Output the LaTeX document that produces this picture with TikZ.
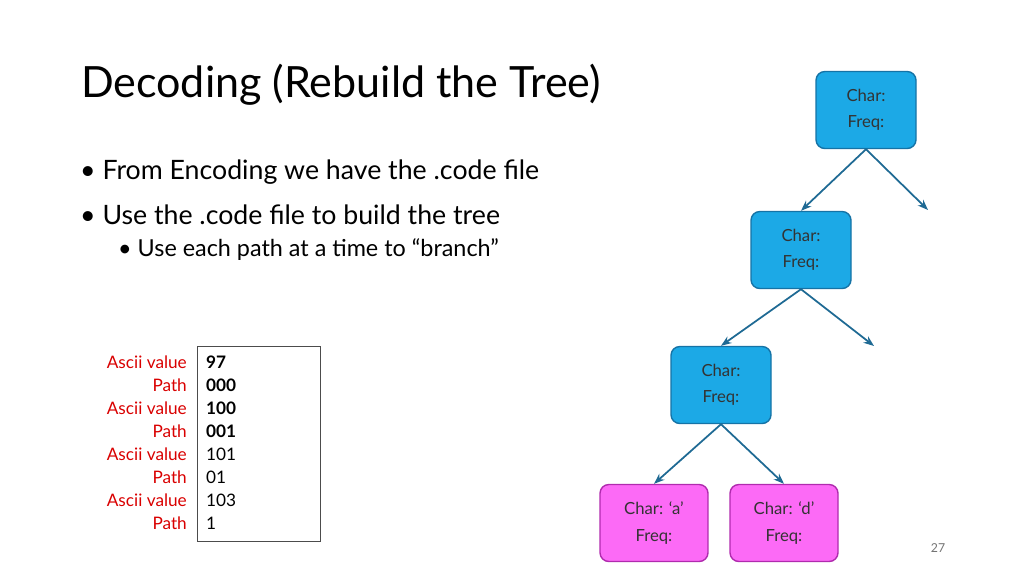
\documentclass[tikz,border=0pt]{standalone}
\usepackage{fontspec}
\setmainfont{Lato}
\usetikzlibrary{arrows.meta}
\definecolor{nb}{HTML}{1CA9E6}
\definecolor{nbd}{HTML}{1573A6}
\definecolor{np}{HTML}{FC6AF6}
\definecolor{npd}{HTML}{B02BAE}
\definecolor{ac}{HTML}{1F6A94}
\begin{document}
\begin{tikzpicture}[x=0.02cm,y=-0.02cm,
  bn/.style={line width=0.8pt,rounded corners=5pt,minimum width=2cm,minimum height=1.54cm,align=center,font=\fontsize{9.5}{15}\selectfont,text=black!80},
  blue/.style={bn,draw=nbd,fill=nb},
  pink/.style={bn,draw=npd,fill=np,minimum width=2.16cm},
  arr/.style={-{Stealth[length=6pt]},draw=ac,line width=1pt},
  lab/.style={anchor=east,text=red!85!black,font=\fontsize{9.8}{10}\selectfont},
  val/.style={anchor=west,font=\fontsize{9.8}{10}\selectfont}]
\useasboundingbox (0,0) rectangle (1024,576);
\node[anchor=west,font=\fontsize{24.5}{28}\selectfont] (t) at (75,85) {Decoding (Rebuild the Tree)};
\node[anchor=west,font=\fontsize{15.2}{18}\selectfont] (b1) at (74,172) {\textbullet\ From Encoding we have the .code file};
\node[anchor=west,font=\fontsize{15.2}{18}\selectfont] (b2) at (74,215) {\textbullet\ Use the .code file to build the tree};
\node[anchor=west,font=\fontsize{13.3}{16}\selectfont] (b3) at (112,250) {\textbullet\ Use each path at a time to “branch”};
\node[blue] (n1) at (866,110) {Char:\\Freq:};
\node[blue] (n2) at (801,250) {Char:\\Freq:};
\node[blue] (n3) at (721,385) {Char:\\Freq:};
\node[pink] (a) at (654,523) {Char: ‘a’\\Freq:};
\node[pink] (d) at (784,523) {Char: ‘d’\\Freq:};
\coordinate (r1) at (928,210);
\coordinate (r2) at (874,346);
\draw[arr] (n1.south) -- (n2.north);
\draw[arr] (n1.south) -- (r1);
\draw[arr] (n2.south) -- (n3.north);
\draw[arr] (n2.south) -- (r2);
\draw[arr] (n3.south) -- (a.north);
\draw[arr] (n3.south) -- (d.north);
\node[draw=black!70,line width=0.5pt,minimum width=2.46cm,minimum height=3.9cm,anchor=north west] (box) at (197,346) {};
\foreach \l/\v/\y in {Ascii value/\textbf{97}/362,Path/\textbf{000}/385,Ascii value/\textbf{100}/408,Path/\textbf{001}/431,Ascii value/101/454,Path/01/477,Ascii value/103/500,Path/1/523}{
  \node[lab] at (193,\y) {\l};
  \node[val] at (200,\y) {\v};
}
\node[text=black!55,font=\fontsize{7}{8}\selectfont] (pg) at (938,548) {27};
\end{tikzpicture}
\end{document}
